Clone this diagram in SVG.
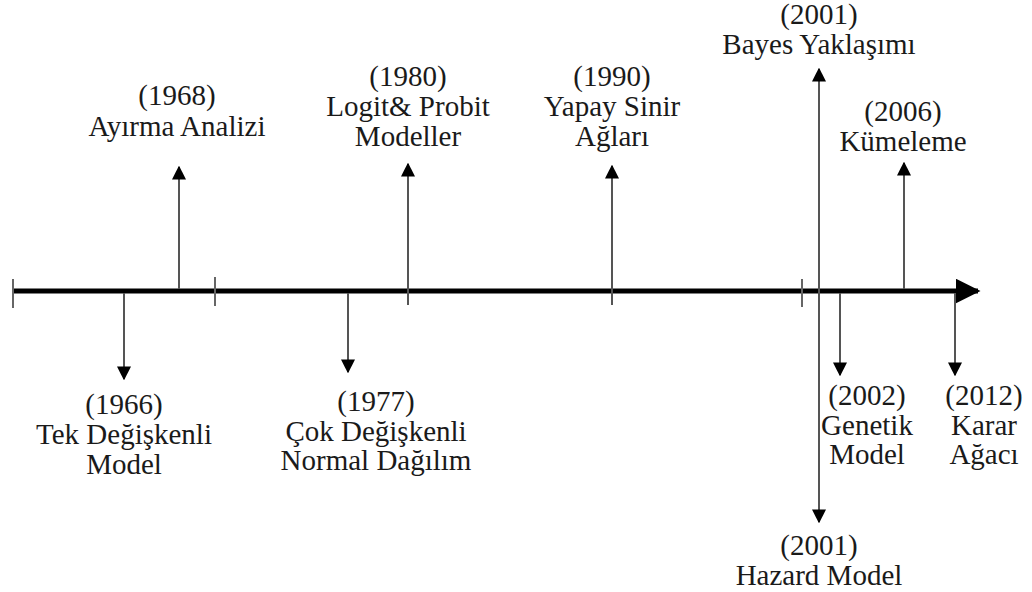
<svg xmlns="http://www.w3.org/2000/svg" width="1032" height="592" viewBox="0 0 1032 592">
  <style>
    text { font-family: 'Liberation Serif', 'DejaVu Serif', serif; font-size: 29px; fill: #1a1a1a; text-anchor: middle; }
    .axis { stroke: #000; stroke-width: 5; fill: none; }
    .tick { stroke: #666; stroke-width: 2; }
    .stem { stroke: #555; stroke-width: 2; fill: none; }
  </style>
  <defs>
    <marker id="head" viewBox="0 0 10 10" refX="9" refY="5" markerWidth="14" markerHeight="14" markerUnits="userSpaceOnUse" orient="auto">
      <path d="M0,0 L10,5 L0,10 z" fill="#000"/>
    </marker>
    <marker id="axishead" viewBox="0 0 10 10" refX="9" refY="5" markerWidth="5" markerHeight="5" orient="auto">
      <path d="M0,0 L10,5 L0,10 z" fill="#000"/>
    </marker>
  </defs>
  <rect width="1032" height="592" fill="#fff"/>

  <g id="connectors">
    <line class="axis" x1="13" y1="291" x2="978" y2="291" marker-end="url(#axishead)"/>
    <line class="tick" x1="13" y1="279" x2="13" y2="308"/>
    <line class="tick" x1="215" y1="277" x2="215" y2="306"/>
    <line class="tick" x1="802" y1="279" x2="802" y2="307"/>
    <line class="stem" x1="179" y1="289" x2="179" y2="167" marker-end="url(#head)"/>
    <line class="stem" x1="124" y1="293" x2="124" y2="379" marker-end="url(#head)"/>
    <line class="stem" x1="348" y1="293" x2="348" y2="372" marker-end="url(#head)"/>
    <line class="stem" x1="408" y1="305" x2="408" y2="164" marker-end="url(#head)"/>
    <line class="stem" x1="612" y1="305" x2="612" y2="166" marker-end="url(#head)"/>
    <line class="stem" x1="819" y1="290" x2="819" y2="69" marker-end="url(#head)"/>
    <line class="stem" x1="819" y1="290" x2="819" y2="522" marker-end="url(#head)"/>
    <line class="stem" x1="840" y1="293" x2="840" y2="375" marker-end="url(#head)"/>
    <line class="stem" x1="904" y1="289" x2="904" y2="163" marker-end="url(#head)"/>
    <line class="stem" x1="955" y1="293" x2="955" y2="375" marker-end="url(#head)"/>
  </g>

  <g id="n1966"><text x="124" y="414">(1966)</text><text x="124" y="444">Tek Değişkenli</text><text x="124" y="474">Model</text></g>
  <g id="n1968"><text x="177" y="105">(1968)</text><text x="177" y="136">Ayırma Analizi</text></g>
  <g id="n1977"><text x="376" y="411">(1977)</text><text x="376" y="441">Çok Değişkenli</text><text x="376" y="470">Normal Dağılım</text></g>
  <g id="n1980"><text x="408" y="86">(1980)</text><text x="408" y="116">Logit&amp; Probit</text><text x="408" y="146">Modeller</text></g>
  <g id="n1990"><text x="612" y="86">(1990)</text><text x="612" y="116">Yapay Sinir</text><text x="612" y="146">Ağları</text></g>
  <g id="n2001a"><text x="819" y="24">(2001)</text><text x="819" y="54">Bayes Yaklaşımı</text></g>
  <g id="n2001b"><text x="819" y="555">(2001)</text><text x="819" y="585">Hazard Model</text></g>
  <g id="n2002"><text x="867" y="405">(2002)</text><text x="867" y="435">Genetik</text><text x="867" y="464">Model</text></g>
  <g id="n2006"><text x="903" y="121">(2006)</text><text x="903" y="151">Kümeleme</text></g>
  <g id="n2012"><text x="984" y="405">(2012)</text><text x="984" y="435">Karar</text><text x="984" y="464">Ağacı</text></g>
</svg>
